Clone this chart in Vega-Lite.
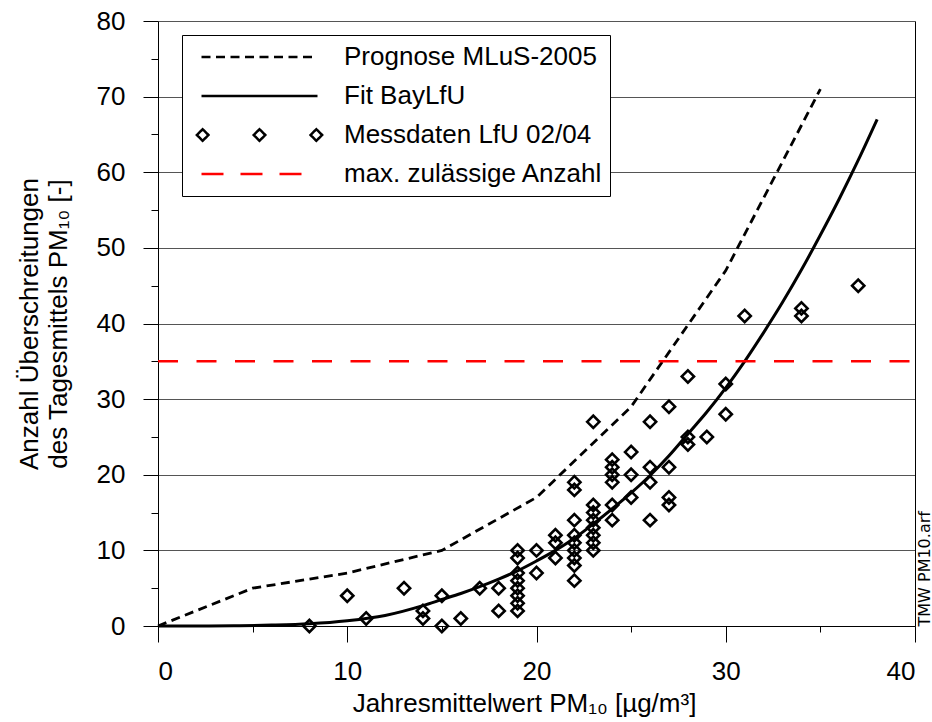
{
  "$schema": "https://vega.github.io/schema/vega-lite/v6.json",
  "width": 757,
  "height": 605,
  "autosize": {"type": "none"},
  "padding": {"left": 158, "top": 21, "right": 17, "bottom": 96},
  "background": "white",
  "config": {
    "font": "Liberation Sans",
    "view": {"stroke": null},
    "axis": {
      "labelFont": "Liberation Sans",
      "titleFont": "Liberation Sans",
      "labelFontSize": 26,
      "titleFontSize": 26,
      "titleFontWeight": "normal",
      "labelColor": "black",
      "titleColor": "black",
      "domainColor": "black",
      "tickColor": "black",
      "gridColor": "#555555"
    }
  },
  "datasets": {
    "lines": [
      {"series": "Prognose MLuS-2005", "x": 0, "y": 0},
      {"series": "Prognose MLuS-2005", "x": 5, "y": 5},
      {"series": "Prognose MLuS-2005", "x": 10, "y": 7},
      {"series": "Prognose MLuS-2005", "x": 15, "y": 10},
      {"series": "Prognose MLuS-2005", "x": 20, "y": 17},
      {"series": "Prognose MLuS-2005", "x": 25, "y": 29},
      {"series": "Prognose MLuS-2005", "x": 30, "y": 47},
      {"series": "Prognose MLuS-2005", "x": 35, "y": 71},
      {"series": "Fit BayLfU", "x": 0, "y": 0},
      {"series": "Fit BayLfU", "x": 2, "y": 0.0},
      {"series": "Fit BayLfU", "x": 4, "y": 0.03},
      {"series": "Fit BayLfU", "x": 6, "y": 0.12},
      {"series": "Fit BayLfU", "x": 8, "y": 0.3},
      {"series": "Fit BayLfU", "x": 10, "y": 0.7},
      {"series": "Fit BayLfU", "x": 12, "y": 1.4},
      {"series": "Fit BayLfU", "x": 14, "y": 2.7},
      {"series": "Fit BayLfU", "x": 15, "y": 3.5},
      {"series": "Fit BayLfU", "x": 16, "y": 4.3},
      {"series": "Fit BayLfU", "x": 17, "y": 5.2},
      {"series": "Fit BayLfU", "x": 18, "y": 6.2},
      {"series": "Fit BayLfU", "x": 19, "y": 7.3},
      {"series": "Fit BayLfU", "x": 20, "y": 8.6},
      {"series": "Fit BayLfU", "x": 21, "y": 10.0},
      {"series": "Fit BayLfU", "x": 22, "y": 11.6},
      {"series": "Fit BayLfU", "x": 23, "y": 13.5},
      {"series": "Fit BayLfU", "x": 24, "y": 15.5},
      {"series": "Fit BayLfU", "x": 25, "y": 17.6},
      {"series": "Fit BayLfU", "x": 26, "y": 19.9},
      {"series": "Fit BayLfU", "x": 27, "y": 22.5},
      {"series": "Fit BayLfU", "x": 28, "y": 25.4},
      {"series": "Fit BayLfU", "x": 29, "y": 28.3},
      {"series": "Fit BayLfU", "x": 30, "y": 31.5},
      {"series": "Fit BayLfU", "x": 31, "y": 35.0},
      {"series": "Fit BayLfU", "x": 32, "y": 38.8},
      {"series": "Fit BayLfU", "x": 33, "y": 42.8},
      {"series": "Fit BayLfU", "x": 34, "y": 47.1},
      {"series": "Fit BayLfU", "x": 35, "y": 51.7},
      {"series": "Fit BayLfU", "x": 36, "y": 56.5},
      {"series": "Fit BayLfU", "x": 37, "y": 61.6},
      {"series": "Fit BayLfU", "x": 38, "y": 67.0},
      {"series": "max. zulässige Anzahl", "x": 0, "y": 35},
      {"series": "max. zulässige Anzahl", "x": 40, "y": 35}
    ],
    "mess": [
      {"series": "Messdaten LfU 02/04", "x": 8, "y": 0},
      {"series": "Messdaten LfU 02/04", "x": 10, "y": 4},
      {"series": "Messdaten LfU 02/04", "x": 11, "y": 1},
      {"series": "Messdaten LfU 02/04", "x": 13, "y": 5},
      {"series": "Messdaten LfU 02/04", "x": 14, "y": 2},
      {"series": "Messdaten LfU 02/04", "x": 14, "y": 1},
      {"series": "Messdaten LfU 02/04", "x": 15, "y": 4},
      {"series": "Messdaten LfU 02/04", "x": 15, "y": 0},
      {"series": "Messdaten LfU 02/04", "x": 16, "y": 1},
      {"series": "Messdaten LfU 02/04", "x": 17, "y": 5},
      {"series": "Messdaten LfU 02/04", "x": 18, "y": 5},
      {"series": "Messdaten LfU 02/04", "x": 18, "y": 2},
      {"series": "Messdaten LfU 02/04", "x": 19, "y": 10},
      {"series": "Messdaten LfU 02/04", "x": 19, "y": 9},
      {"series": "Messdaten LfU 02/04", "x": 19, "y": 7},
      {"series": "Messdaten LfU 02/04", "x": 19, "y": 6},
      {"series": "Messdaten LfU 02/04", "x": 19, "y": 5},
      {"series": "Messdaten LfU 02/04", "x": 19, "y": 4},
      {"series": "Messdaten LfU 02/04", "x": 19, "y": 3},
      {"series": "Messdaten LfU 02/04", "x": 19, "y": 2},
      {"series": "Messdaten LfU 02/04", "x": 20, "y": 10},
      {"series": "Messdaten LfU 02/04", "x": 20, "y": 7},
      {"series": "Messdaten LfU 02/04", "x": 21, "y": 12},
      {"series": "Messdaten LfU 02/04", "x": 21, "y": 11},
      {"series": "Messdaten LfU 02/04", "x": 21, "y": 9},
      {"series": "Messdaten LfU 02/04", "x": 22, "y": 19},
      {"series": "Messdaten LfU 02/04", "x": 22, "y": 18},
      {"series": "Messdaten LfU 02/04", "x": 22, "y": 14},
      {"series": "Messdaten LfU 02/04", "x": 22, "y": 12},
      {"series": "Messdaten LfU 02/04", "x": 22, "y": 11},
      {"series": "Messdaten LfU 02/04", "x": 22, "y": 10},
      {"series": "Messdaten LfU 02/04", "x": 22, "y": 9},
      {"series": "Messdaten LfU 02/04", "x": 22, "y": 8},
      {"series": "Messdaten LfU 02/04", "x": 22, "y": 6},
      {"series": "Messdaten LfU 02/04", "x": 23, "y": 27},
      {"series": "Messdaten LfU 02/04", "x": 23, "y": 16},
      {"series": "Messdaten LfU 02/04", "x": 23, "y": 15},
      {"series": "Messdaten LfU 02/04", "x": 23, "y": 14},
      {"series": "Messdaten LfU 02/04", "x": 23, "y": 13},
      {"series": "Messdaten LfU 02/04", "x": 23, "y": 12},
      {"series": "Messdaten LfU 02/04", "x": 23, "y": 11},
      {"series": "Messdaten LfU 02/04", "x": 23, "y": 10},
      {"series": "Messdaten LfU 02/04", "x": 24, "y": 22},
      {"series": "Messdaten LfU 02/04", "x": 24, "y": 21},
      {"series": "Messdaten LfU 02/04", "x": 24, "y": 20},
      {"series": "Messdaten LfU 02/04", "x": 24, "y": 19},
      {"series": "Messdaten LfU 02/04", "x": 24, "y": 16},
      {"series": "Messdaten LfU 02/04", "x": 24, "y": 14},
      {"series": "Messdaten LfU 02/04", "x": 25, "y": 23},
      {"series": "Messdaten LfU 02/04", "x": 25, "y": 20},
      {"series": "Messdaten LfU 02/04", "x": 25, "y": 17},
      {"series": "Messdaten LfU 02/04", "x": 26, "y": 27},
      {"series": "Messdaten LfU 02/04", "x": 26, "y": 21},
      {"series": "Messdaten LfU 02/04", "x": 26, "y": 19},
      {"series": "Messdaten LfU 02/04", "x": 26, "y": 14},
      {"series": "Messdaten LfU 02/04", "x": 27, "y": 29},
      {"series": "Messdaten LfU 02/04", "x": 27, "y": 21},
      {"series": "Messdaten LfU 02/04", "x": 27, "y": 17},
      {"series": "Messdaten LfU 02/04", "x": 27, "y": 16},
      {"series": "Messdaten LfU 02/04", "x": 28, "y": 33},
      {"series": "Messdaten LfU 02/04", "x": 28, "y": 25},
      {"series": "Messdaten LfU 02/04", "x": 28, "y": 24},
      {"series": "Messdaten LfU 02/04", "x": 29, "y": 25},
      {"series": "Messdaten LfU 02/04", "x": 30, "y": 32},
      {"series": "Messdaten LfU 02/04", "x": 30, "y": 28},
      {"series": "Messdaten LfU 02/04", "x": 31, "y": 41},
      {"series": "Messdaten LfU 02/04", "x": 34, "y": 42},
      {"series": "Messdaten LfU 02/04", "x": 34, "y": 41},
      {"series": "Messdaten LfU 02/04", "x": 37, "y": 45}
    ]
  },
  "resolve": {"axis": {"x": "independent", "y": "independent"}},
  "layer": [
    {
      "data": {"name": "lines"},
      "transform": [{"filter": "datum.series === 'Prognose MLuS-2005'"}],
      "mark": {"type": "line", "strokeWidth": 2.8, "strokeDash": [9, 5.5]},
      "encoding": {
        "x": {
          "field": "x", "type": "quantitative",
          "scale": {"domain": [0, 40], "nice": false, "zero": false},
          "axis": {
            "orient": "bottom", "values": [0, 10, 20, 30, 40], "tickSize": 16,
            "labelPadding": 16, "grid": false, "domainWidth": 1,
            "title": "Jahresmittelwert PM₁₀ [µg/m³]", "titlePadding": 6, "titleX": 366
          }
        },
        "y": {
          "field": "y", "type": "quantitative",
          "scale": {"domain": [0, 80], "nice": false, "zero": false},
          "axis": {
            "orient": "left", "values": [0, 10, 20, 30, 40, 50, 60, 70, 80], "tickSize": 15,
            "labelPadding": 18, "grid": true, "gridWidth": 1, "domainWidth": 1,
            "title": ["Anzahl Überschreitungen", "des Tagesmittels PM₁₀ [-]"],
            "titleLineHeight": 29, "titlePadding": 25
          }
        },
        "color": {
          "field": "series", "type": "nominal",
          "scale": {
            "domain": ["Prognose MLuS-2005", "Fit BayLfU", "Messdaten LfU 02/04", "max. zulässige Anzahl"],
            "range": ["#000000", "#000000", "#000000", "#ff0000"]
          },
          "legend": {
            "title": null,
            "orient": "none",
            "legendX": 24,
            "legendY": 14,
            "direction": "vertical",
            "symbolType": "stroke",
            "symbolSize": 13456,
            "symbolStrokeWidth": 2.5,
            "clipHeight": 30,
            "rowPadding": 9,
            "padding": 7,
            "symbolOffset": 11,
            "labelOffset": 25,
            "labelFont": "Liberation Sans",
            "labelFontSize": 26,
            "labelColor": "black",
            "labelLimit": 500,
            "strokeColor": "black",
            "fillColor": "white",
            "cornerRadius": 0,
            "encode": {
              "symbols": {
                "update": {
                  "shape": {"signal": "datum.value === 'Messdaten LfU 02/04' ? 'M-1.08,0L-0.98,-0.1L-0.88,0L-0.98,0.1Z M-0.1,0L0,-0.1L0.1,0L0,0.1Z M0.88,0L0.98,-0.1L1.08,0L0.98,0.1Z' : 'stroke'"},
                  "strokeDash": {"signal": "datum.value === 'Prognose MLuS-2005' ? [9, 5.5] : datum.value === 'max. zulässige Anzahl' ? [22, 17] : [1, 0]"},
                  "stroke": {"signal": "datum.value === 'max. zulässige Anzahl' ? '#ff0000' : '#000000'"},
                  "fill": {"value": "transparent"},
                  "opacity": {"value": 1}
                }
              }
            }
          }
        }
      }
    },
    {
      "data": {"name": "lines"},
      "transform": [{"filter": "datum.series === 'Fit BayLfU'"}],
      "mark": {"type": "line", "strokeWidth": 3, "interpolate": "monotone"},
      "encoding": {
        "x": {"field": "x", "type": "quantitative", "axis": null},
        "y": {"field": "y", "type": "quantitative", "axis": null},
        "color": {"field": "series", "type": "nominal"}
      }
    },
    {
      "data": {"name": "lines"},
      "transform": [{"filter": "datum.series === 'max. zulässige Anzahl'"}],
      "mark": {"type": "line", "strokeWidth": 2.5, "strokeDash": [20, 18.5]},
      "encoding": {
        "x": {"field": "x", "type": "quantitative", "axis": null},
        "y": {
          "field": "y", "type": "quantitative",
          "axis": {
            "orient": "right", "labels": false, "ticks": false, "grid": false,
            "domain": true, "domainWidth": 1,
            "title": "TMW  PM10.arf", "titleFont": "DejaVu Sans", "titleFontSize": 16, "titleAngle": 270,
            "titleBaseline": "top", "titlePadding": 1, "titleAnchor": "start"
          }
        },
        "color": {"field": "series", "type": "nominal"}
      }
    },
    {
      "data": {"name": "mess"},
      "mark": {"type": "point", "shape": "diamond", "filled": false, "size": 150, "strokeWidth": 2.6, "opacity": 1},
      "encoding": {
        "x": {
          "field": "x", "type": "quantitative",
          "axis": {"orient": "bottom", "values": [5, 15, 25, 35], "tickSize": 6, "labels": false, "domain": false, "grid": false, "title": null}
        },
        "y": {
          "field": "y", "type": "quantitative",
          "axis": {"orient": "left", "values": [5, 15, 25, 35, 45, 55, 65, 75], "tickSize": 7, "labels": false, "domain": false, "grid": false, "title": null}
        },
        "color": {"field": "series", "type": "nominal"}
      }
    }
  ]
}
